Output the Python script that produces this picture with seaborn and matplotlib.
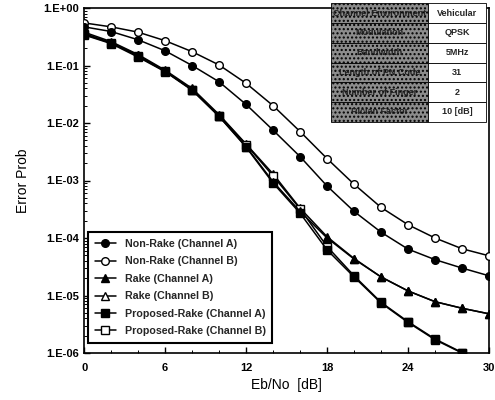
import numpy as np
import pandas as pd
import matplotlib
matplotlib.use("Agg")
import matplotlib.pyplot as plt
import seaborn as sns

ebno = [0, 2, 4, 6, 8, 10, 12, 14, 16, 18, 20, 22, 24, 26, 28, 30]

nonrake_a = [0.47, 0.39, 0.28, 0.18, 0.10, 0.052, 0.021, 0.0075, 0.0026, 8.0e-4,
             2.9e-4, 1.26e-4, 6.4e-5, 4.2e-5, 3.0e-5, 2.2e-5]
nonrake_b = [0.55, 0.47, 0.38, 0.27, 0.174, 0.102, 0.049, 0.020, 0.0071, 0.0024,
             8.6e-4, 3.4e-4, 1.7e-4, 1.0e-4, 6.5e-5, 4.9e-5]
rake_a = [0.36, 0.25, 0.15, 0.080, 0.038, 0.013, 0.0039, 9.5e-4, 2.9e-4, 1.0e-4,
          4.3e-5, 2.1e-5, 1.2e-5, 7.8e-6, 6.0e-6, 4.8e-6]
rake_b = [0.38, 0.26, 0.155, 0.083, 0.040, 0.014, 0.0043, 1.3e-3, 3.3e-4, 1.05e-4,
          4.4e-5, 2.1e-5, 1.2e-5, 7.8e-6, 6.0e-6, 4.8e-6]
prop_a = [0.34, 0.24, 0.14, 0.078, 0.037, 0.013, 0.0038, 9.0e-4, 2.7e-4, 6.2e-5,
          2.1e-5, 7.4e-6, 3.4e-6, 1.7e-6, 1.0e-6, 5.0e-7]
prop_b = [0.35, 0.245, 0.145, 0.079, 0.038, 0.0135, 0.0042, 1.2e-3, 3.2e-4, 7.1e-5,
          2.2e-5, 7.6e-6, 3.5e-6, 1.75e-6, 1.02e-6, 5.1e-7]

series_names = ['Non-Rake (Channel A)', 'Non-Rake (Channel B)',
                'Rake (Channel A)', 'Rake (Channel B)',
                'Proposed-Rake (Channel A)', 'Proposed-Rake (Channel B)']
series_vals = [nonrake_a, nonrake_b, rake_a, rake_b, prop_a, prop_b]

table_labels = ['Channel Environment', 'Modulation', 'Bandwidth',
                'Length of PN Code', 'Number of Finger', 'Rician Factor']
table_values = ['Vehicular', 'QPSK', '5MHz', '31', '2', '10 [dB]']

sns.set_theme(style="ticks")
plt.rcParams['font.family'] = ['Liberation Sans', 'DejaVu Sans']

fig = plt.figure(figsize=(4.95, 4.0), dpi=100)
ax = fig.add_axes([0.170, 0.1175, 0.818, 0.8625])

estilos = [
    dict(marker='o', markerfacecolor='black', markersize=5.5, zorder=4),
    dict(marker='o', markerfacecolor='white', markersize=5.5, zorder=3),
    dict(marker='^', markerfacecolor='black', markersize=6, zorder=4),
    dict(marker='^', markerfacecolor='white', markersize=6, zorder=3),
    dict(marker='s', markerfacecolor='black', markersize=6, zorder=4),
    dict(marker='s', markerfacecolor='white', markersize=6, zorder=3),
]

for nome, vals, est in zip(series_names, series_vals, estilos):
    df = pd.DataFrame({'Eb/No': ebno, 'Prob': vals})
    sns.lineplot(data=df, x='Eb/No', y='Prob', ax=ax, color='black',
                 linewidth=1.1, markeredgecolor='black', markeredgewidth=1.0,
                 label=nome, **est)

ax.set_yscale('log')
ax.set_ylim(1e-6, 1.0)
ax.set_xlim(0, 30)
ax.set_xticks([0, 6, 12, 18, 24, 30])
ax.set_xticks(np.arange(0, 31, 2), minor=True)
ax.set_yticks([10.0 ** k for k in range(-6, 1)])
ax.set_yticklabels(['1.E-06', '1.E-05', '1.E-04', '1.E-03', '1.E-02', '1.E-01', '1.E+00'])
ax.tick_params(axis='both', which='both', direction='in', labelsize=8, colors='black')
ax.tick_params(axis='both', which='major', length=4, width=1)
ax.tick_params(axis='both', which='minor', length=2, width=0.7)
for lab in ax.get_xticklabels() + ax.get_yticklabels():
    lab.set_fontweight('bold')
ax.tick_params(axis='x', pad=7)
for s in ax.spines.values():
    s.set_color('black')
    s.set_linewidth(1.2)

ax.set_xlabel('Eb/No  [dB]', fontsize=10, color='black', labelpad=4)
ax.set_ylabel('Error Prob', fontsize=10, color='black', labelpad=10)

leg = ax.legend(loc='lower left', bbox_to_anchor=(0.01, 0.03), borderaxespad=0,
                frameon=True, fancybox=False, edgecolor='black',
                handlelength=2.0, labelspacing=0.7, borderpad=0.6,
                prop={'weight': 'bold', 'size': 7.7})
leg.get_frame().set_linewidth(1.5)
leg.get_frame().set_alpha(1)
leg.set_zorder(6)

tabela = ax.table(cellText=[[a, b] for a, b in zip(table_labels, table_values)],
                  cellLoc='center', colWidths=[0.626, 0.374],
                  bbox=[0.61, 0.67, 0.383, 0.344])
tabela.auto_set_font_size(False)
tabela.set_fontsize(6.5)
for (r, c), cell in tabela.get_celld().items():
    cell.set_edgecolor('black')
    cell.set_linewidth(0.6)
    cell.get_text().set_fontweight('bold')
    if c == 0:
        cell.set_facecolor('#8c8c8c')
        cell.set_hatch('....')
        cell.get_text().set_color('#222222')
    else:
        cell.set_facecolor('white')
tabela.set_zorder(7)

fig.savefig('out.png', dpi=100)
